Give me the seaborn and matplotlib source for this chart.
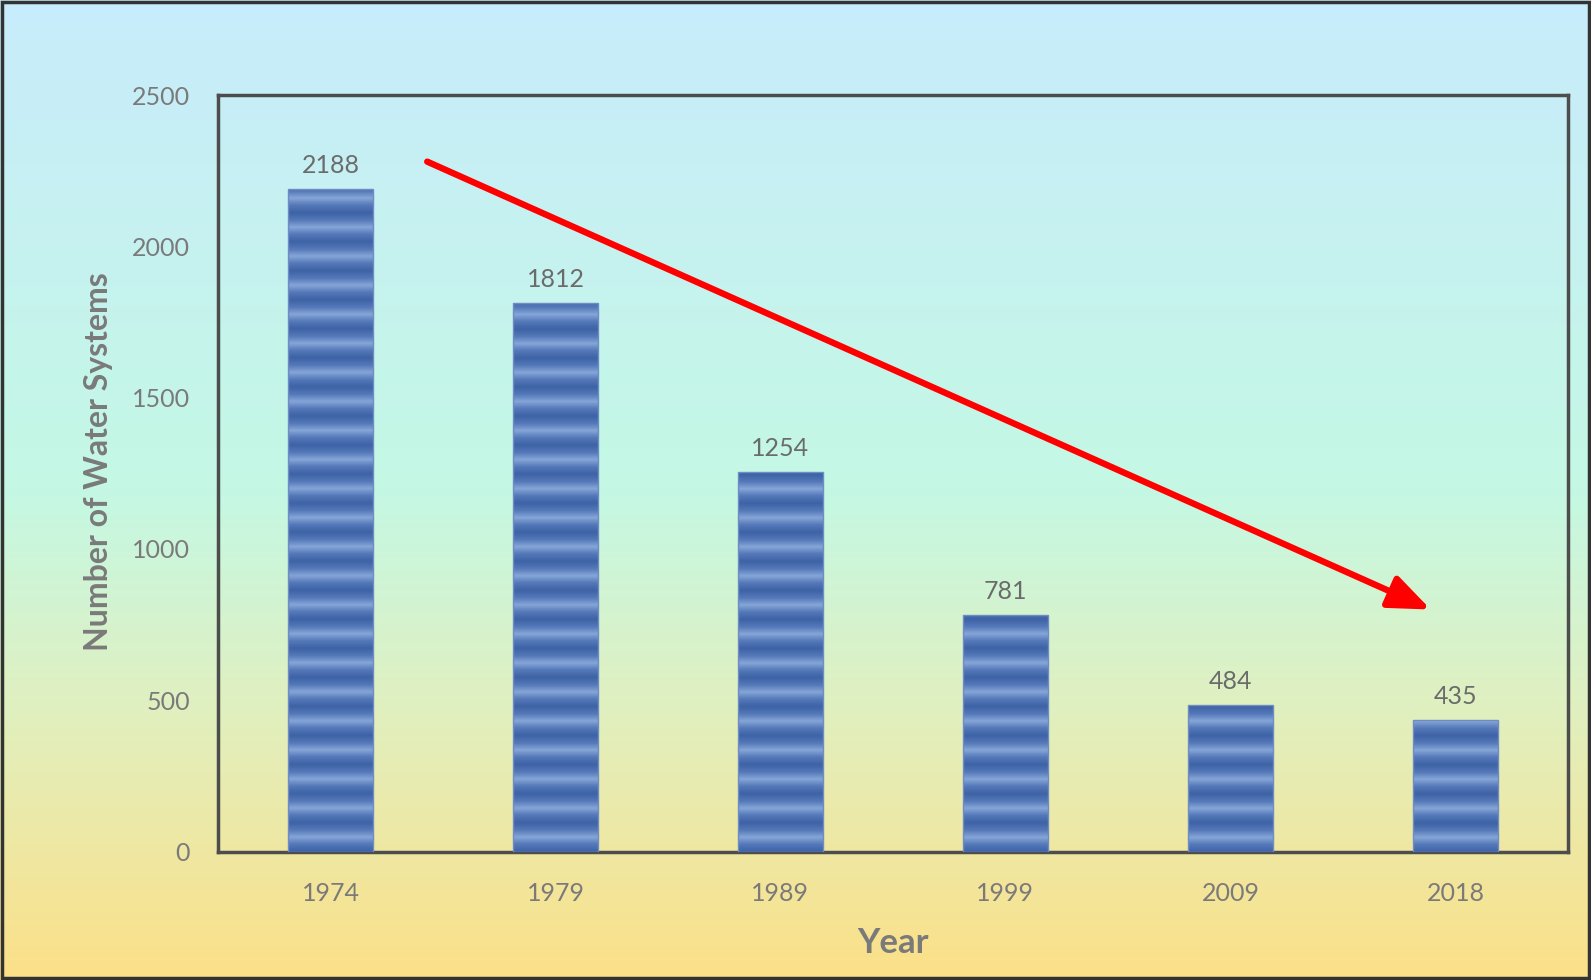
import numpy as np
import matplotlib
matplotlib.use("Agg")
import matplotlib.pyplot as plt
from matplotlib.colors import LinearSegmentedColormap
from matplotlib.patches import Rectangle
import seaborn as sns
import pandas as pd

years = ["1974", "1979", "1989", "1999", "2009", "2018"]
systems = [2188, 1812, 1254, 781, 484, 435]
y_ticks = [0, 500, 1000, 1500, 2000, 2500]

sns.set_theme(style="white")
plt.rcParams["font.family"] = ["Lato", "DejaVu Sans"]

W, H = 1591, 980
fig = plt.figure(figsize=(W / 100, H / 100), dpi=100)

# background gradient
bg = fig.add_axes([0, 0, 1, 1], zorder=-10)
bg_cmap = LinearSegmentedColormap.from_list(
    "bg", [(0.0, "#c8ecfc"), (0.5, "#c4f8e4"), (0.72, "#e0f0c0"), (1.0, "#fce088")])
grad = np.linspace(0, 1, 256).reshape(-1, 1)
bg.imshow(grad, aspect="auto", cmap=bg_cmap, extent=[0, 1, 0, 1], origin="upper")
bg.set_axis_off()
fig.add_artist(Rectangle((0.0015, 0.002), 0.997, 0.996, transform=fig.transFigure,
                         fill=False, edgecolor="#333333", linewidth=2.5, zorder=20))

ax = fig.add_axes([0.137, 0.131, 0.8485, 0.772])
ax.set_facecolor("none")
df = pd.DataFrame({"Year": years, "Systems": systems})
sns.barplot(data=df, x="Year", y="Systems", ax=ax, width=0.375,
            color="#4a6fb0", saturation=1, edgecolor="none")

stripe_cmap = LinearSegmentedColormap.from_list("st", ["#3e63a6", "#5478b8", "#86a6d8", "#5478b8", "#3e63a6"])
period = 96.0
for p in ax.patches:
    x0, y0 = p.get_x(), p.get_y()
    w, h = p.get_width(), p.get_height()
    n = 600
    yy = np.linspace(0, h, n)
    vals = (yy % period) / period
    img = vals[::-1].reshape(-1, 1)
    im = ax.imshow(img, aspect="auto", cmap=stripe_cmap, extent=[x0, x0 + w, y0, y0 + h],
                   origin="upper", zorder=3, interpolation="bilinear")
    im.set_clip_path(p)
    p.set_edgecolor("#6f8cc4")
    p.set_linewidth(1.0)
    p.set_zorder(4)
    p.set_facecolor("none")

for i, v in enumerate(systems):
    ax.text(i, v + 40, str(v), ha="center", va="bottom", fontsize=18, color="#6b6b6b")

ax.set_xlim(-0.5, 5.5)
ax.set_ylim(0, 2500)
ax.set_yticks(y_ticks)
ax.set_yticklabels([str(t) for t in y_ticks])
ax.tick_params(axis="both", colors="#7a7a7a", labelsize=18, length=0)
ax.tick_params(axis="x", pad=22)
ax.tick_params(axis="y", pad=20)
for s in ax.spines.values():
    s.set_visible(True)
    s.set_color("#4d4d4d")
    s.set_linewidth(2.5)

ax.set_xlabel("Year", fontsize=25, fontweight="bold", color="#7a7a7a", labelpad=16)
ax.set_ylabel("Number of Water Systems", fontsize=23, fontweight="bold", color="#7a7a7a")
ax.yaxis.set_label_coords(-0.078, 0.516)

ax.annotate("", xy=(4.89, 800), xytext=(0.43, 2280),
            arrowprops=dict(arrowstyle="-|>,head_length=2.1,head_width=0.85",
                            color="#ff0000", lw=4.6, shrinkA=0, shrinkB=0),
            zorder=10)

fig.savefig("out.png", dpi=100)
